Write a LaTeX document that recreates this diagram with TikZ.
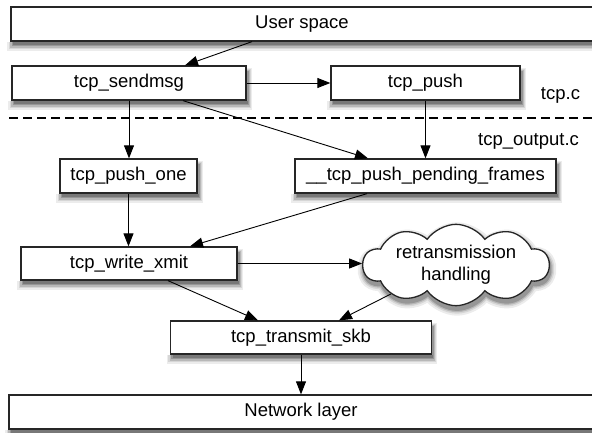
\documentclass[tikz,border=0pt]{standalone}
\usepackage{fontspec}
\setmainfont{Liberation Sans}
\usetikzlibrary{arrows.meta,shapes.symbols}

\definecolor{shadowA}{RGB}{236,236,236}
\definecolor{shadowB}{RGB}{214,214,214}
\definecolor{shadowC}{RGB}{184,184,184}
\definecolor{shadowD}{RGB}{150,150,150}
\definecolor{shadowE}{RGB}{120,120,120}

% soft shadow strips below and to the right of a rectangular node
\newcommand\dropshade[1]{%
  \fill[shadowA] ([xshift=-3pt]#1.south west) rectangle ([xshift=5pt,yshift=-9pt]#1.south east);
  \fill[shadowA] ([yshift=-3pt]#1.north east) rectangle ([xshift=5pt]#1.south east);
  \fill[shadowB] ([xshift=-1.5pt]#1.south west) rectangle ([xshift=4pt,yshift=-7.5pt]#1.south east);
  \fill[shadowB] ([yshift=-4pt]#1.north east) rectangle ([xshift=4pt]#1.south east);
  \fill[shadowC] ([xshift=0pt]#1.south west) rectangle ([xshift=3pt,yshift=-6pt]#1.south east);
  \fill[shadowC] ([yshift=-5pt]#1.north east) rectangle ([xshift=3pt]#1.south east);
  \fill[shadowD] ([xshift=1.5pt]#1.south west) rectangle ([xshift=2pt,yshift=-4.5pt]#1.south east);
  \fill[shadowD] ([yshift=-6pt]#1.north east) rectangle ([xshift=2pt]#1.south east);
  \fill[shadowE] ([xshift=3pt]#1.south west) rectangle ([xshift=1pt,yshift=-3pt]#1.south east);
}

\begin{document}
\begin{tikzpicture}[x=1pt,y=-1pt,
  font=\fontsize{18.5}{22}\selectfont,
  box/.style={draw=black!85,line width=1.3pt,fill=white,inner sep=0pt,minimum height=34pt},
  cloudshape/.style={cloud,cloud puffs=10,cloud puff arc=110,aspect=3.2,
      minimum width=186pt,minimum height=58pt,inner sep=0pt,align=center},
  arr/.style={-{Triangle[length=13pt,width=10pt]},line width=0.9pt,draw=black},
  divider/.style={line width=1.1pt,dash pattern=on 9pt off 5pt},
]
\useasboundingbox (0,0) rectangle (592,433);

% shadow of the retransmission cloud
\node[cloudshape,fill=shadowA,draw=shadowA,line width=12pt] (sh1) at (457,269) {\phantom{retransmission}\\\phantom{handling}};
\node[cloudshape,fill=shadowB,draw=shadowB,line width=8pt] (sh2) at (457,269) {\phantom{retransmission}\\\phantom{handling}};
\node[cloudshape,fill=shadowC,draw=shadowC,line width=5pt] (sh3) at (457,269) {\phantom{retransmission}\\\phantom{handling}};
\node[cloudshape,fill=shadowD,draw=shadowD,line width=2.5pt] (sh4) at (457,269) {\phantom{retransmission}\\\phantom{handling}};

% layers and functions
\node[box,minimum width=582pt] (user) at (302,24) {User space};
\node[box,minimum width=234pt] (sendmsg) at (129,83) {tcp\_sendmsg};
\node[box,minimum width=189pt] (push) at (425.5,83) {tcp\_push};
\node[box,minimum width=137pt] (pushone) at (128.5,176) {tcp\_push\_one};
\node[box,minimum width=261pt] (pending) at (425.5,176) {\_\_tcp\_push\_pending\_frames};
\node[box,minimum width=216pt,minimum height=33pt] (xmit) at (129,263.5) {tcp\_write\_xmit};
\node[cloudshape,draw=black!85,line width=1.3pt,fill=white] (retx) at (456,265)
  {retransmission\\handling};
\node[box,minimum width=261pt,minimum height=33pt] (skb) at (301,337.5) {tcp\_transmit\_skb};
\node[box,minimum width=584pt] (net) at (301,412) {Network layer};

% box shadows
\foreach \n in {user,sendmsg,push,pushone,pending,xmit,skb,net}{\dropshade{\n}}

% source file boundary
\coordinate (dl) at (9,118);
\coordinate (dr) at (592,118);
\draw[divider] (dl) -- (dr);
\node[anchor=base,inner sep=0pt] (tcpc) at (560.5,100) {tcp.c};
\node[anchor=base,inner sep=0pt] (tcpout) at (528.5,146) {tcp\_output.c};

% call flow
\draw[arr] ([xshift=-50pt]user.south) -- ([xshift=56pt]sendmsg.north);
\draw[arr] (sendmsg.east) -- (push.west);
\draw[arr] (sendmsg.south) -- (sendmsg.south |- pushone.north);
\draw[arr] ([xshift=54pt]sendmsg.south) -- ([xshift=-57.5pt]pending.north);
\draw[arr] (push.south) -- (pending.north);
\draw[arr] (pushone.south) -- (pushone.south |- xmit.north);
\draw[arr] ([xshift=-58.5pt]pending.south) -- ([xshift=61pt]xmit.north);
\draw[arr] (xmit.east) -- (xmit.east -| retx.west);
\draw[arr] ([xshift=39pt]xmit.south) -- ([xshift=-43pt]skb.north);
\draw[arr] (retx.204) -- ([xshift=38pt]skb.north);
\draw[arr] (skb.south) -- (net.north);
\end{tikzpicture}
\end{document}
